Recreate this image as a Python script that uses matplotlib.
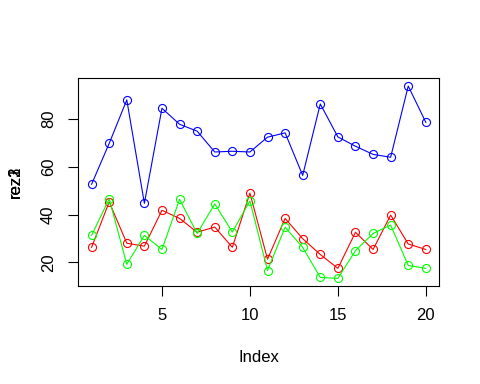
import matplotlib
matplotlib.use('Agg')
import matplotlib.pyplot as plt

plt.rcParams['font.family'] = ['Liberation Sans', 'DejaVu Sans']

index = list(range(1, 21))
rez1 = [52.7, 69.8, 88.0, 44.7, 84.5, 77.8, 74.9, 66.2, 66.5, 66.2,
        72.4, 74.2, 56.4, 86.3, 72.5, 68.6, 65.2, 64.0, 93.8, 78.6]
rez2 = [26.3, 45.3, 28.0, 26.8, 41.8, 38.4, 32.6, 34.8, 26.3, 49.0,
        21.3, 38.4, 29.9, 23.3, 17.5, 32.6, 25.4, 39.8, 27.7, 25.4]
rez3 = [31.3, 46.6, 19.2, 31.3, 25.4, 46.4, 32.1, 44.5, 32.7, 45.7,
        16.6, 34.7, 26.3, 13.7, 13.3, 24.9, 32.1, 35.6, 18.7, 17.5]

fig = plt.figure(figsize=(4.8, 3.84), dpi=100)
ax = fig.add_axes([0.163, 0.255, 0.752, 0.541])

for vals, col in [(rez1, 'blue'), (rez2, 'red'), (rez3, '#00ff00')]:
    ax.plot(index, vals, color=col, lw=0.8, marker='o', ms=5.8,
            mfc='none', mec=col, mew=0.8)

allv = rez1 + rez2 + rez3
lo, hi = min(allv), max(allv)
pad = (hi - lo) * 0.04
ax.set_ylim(lo - pad, hi + pad)
ax.set_xlim(1 - 19 * 0.04, 20 + 19 * 0.04)

ax.set_xticks([5, 10, 15, 20])
ax.set_yticks([20, 40, 60, 80])
ax.tick_params(direction='out', length=7, width=0.8, labelsize=12, pad=9)
for lab in ax.get_yticklabels():
    lab.set_rotation(90)
    lab.set_va('center')
for s in ax.spines.values():
    s.set_linewidth(0.8)

ax.set_xlabel('Index', fontsize=12, labelpad=19)
for name in ['rez1', 'rez2', 'rez3']:
    fig.text(0.033, 0.526, name, rotation=90, fontsize=12, ha='center', va='center')

fig.savefig('out.png', dpi=100)
